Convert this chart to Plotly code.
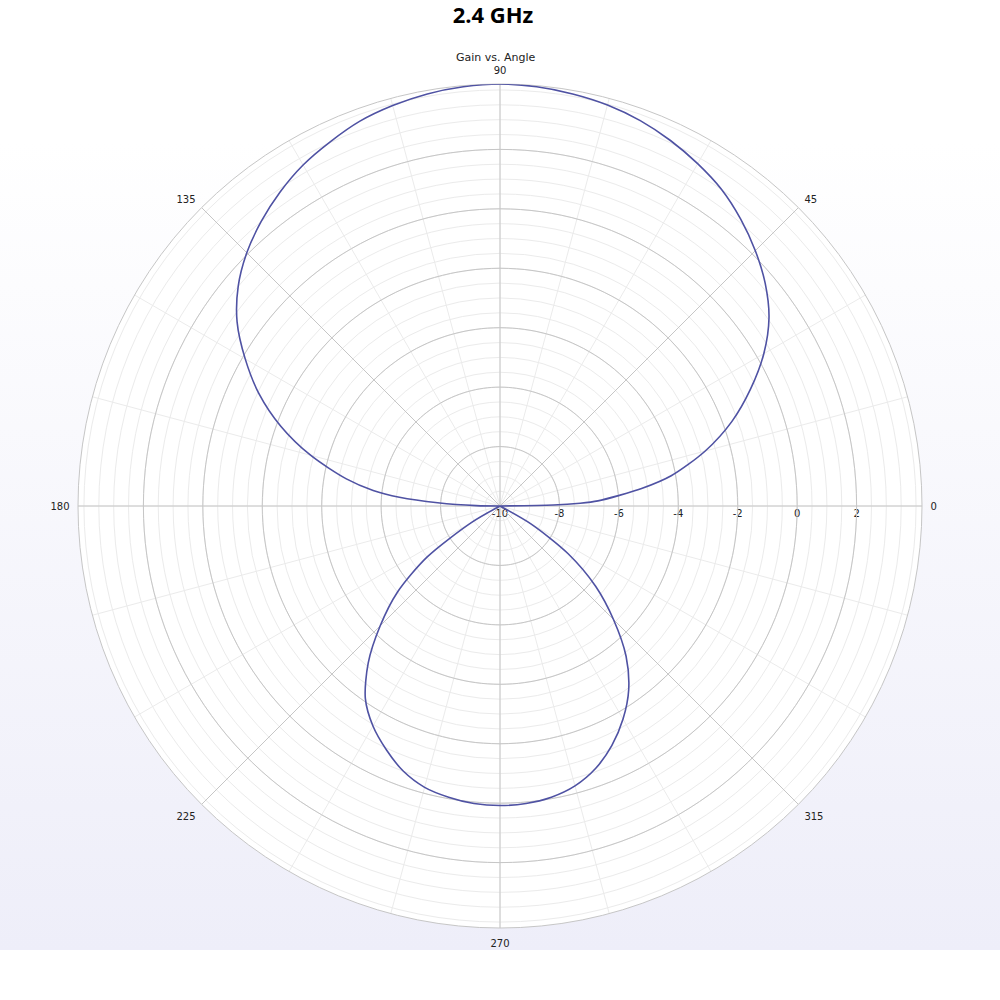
import plotly.graph_objects as go

# gain pattern (angle in degrees, gain in dB)
theta_deg = [0, 1, 2, 3, 5, 7,
             10, 15, 20, 25, 30, 35, 40, 45, 50, 55, 60, 65, 70, 75, 80, 85, 90,
             95, 100, 105, 110, 115, 120, 125, 130, 135, 140, 145, 150, 155, 160, 165, 170,
             173, 175, 177, 179,
             180, 185, 190, 195, 200, 205,
             210, 215, 220, 225, 230, 235, 240, 245, 250, 255, 260, 265, 270,
             275, 280, 285, 290, 295, 300, 305, 310, 315, 320, 325, 330,
             335, 340, 345, 350, 355, 360]
gain_db = [-10, -8.2, -7.3, -6.7, -6.0, -5.2,
           -4.15, -2.85, -1.7, -0.7, 0.25, 1.05, 1.65, 2.15, 2.6, 3.0, 3.3, 3.57, 3.8, 3.97, 4.08, 4.16, 4.2,
           4.16, 4.08, 3.95, 3.78, 3.52, 3.25, 2.9, 2.5, 2.05, 1.5, 0.8, -0.1, -1.05, -2.15, -3.4, -4.75,
           -5.7, -6.6, -7.9, -9.2,
           -10, -10, -10, -10, -10, -10,
           -8.9, -7.0, -5.5, -4.3, -3.1, -2.1, -1.45, -0.95, -0.5, -0.2, -0.05, 0.05, 0.08,
           0.05, -0.05, -0.25, -0.6, -1.1, -1.72, -2.45, -3.4, -4.6, -5.8, -7.2, -8.8,
           -10, -10, -10, -10, -10, -10]

r_min, r_max = -10, 4.2
radial_labels = [-10, -8, -6, -4, -2, 0, 2]
radial_minor = [-10 + 0.5 * i for i in range(29)]
angle_labels = [0, 45, 90, 135, 180, 225, 270, 315]
angle_minor = list(range(0, 360, 15))
circle_theta = list(range(0, 361, 2))

line_col = "#4f52a3"
major_col = "#c6c6c6"
minor_col = "#ebebeb"
font = "DejaVu Sans"

fig = go.Figure()

# page background: white at the top fading to pale lavender
fig.add_trace(go.Scatter(
    x=[0, 1, 1, 0, 0], y=[0.05, 0.05, 1, 1, 0.05],
    fill="toself", mode="lines", line=dict(width=0),
    fillgradient=dict(type="vertical", colorscale=[[0, "#eeeef9"], [0.85, "#ffffff"], [1, "#ffffff"]]),
    hoverinfo="skip", showlegend=False))

# major rings every 2 dB
for rv in radial_labels[1:]:
    fig.add_trace(go.Scatterpolar(
        r=[rv] * len(circle_theta), theta=circle_theta, mode="lines",
        line=dict(color=major_col, width=1), hoverinfo="skip", showlegend=False))

# major spokes every 45 degrees
for a in angle_labels:
    fig.add_trace(go.Scatterpolar(
        r=[r_min, r_max], theta=[a, a], mode="lines",
        line=dict(color=major_col, width=1), hoverinfo="skip", showlegend=False))

fig.add_trace(go.Scatterpolar(
    r=gain_db, theta=theta_deg, mode="lines",
    line=dict(color=line_col, width=1.6, shape="spline", smoothing=0.8),
    name="Gain", showlegend=False))

fig.update_layout(
    width=1000, height=1000,
    margin=dict(l=0, r=0, t=0, b=0),
    paper_bgcolor="white",
    plot_bgcolor="rgba(0,0,0,0)",
    showlegend=False,
    title=dict(text="<b>2.4 GHz</b>", x=0.493, xanchor="center", y=1 - 15 / 1000, yanchor="middle",
               font=dict(family="Open Sans", size=22, color="black")),
    xaxis=dict(domain=[0, 1], range=[0, 1], visible=False, fixedrange=True),
    yaxis=dict(domain=[0, 1], range=[0, 1], visible=False, fixedrange=True),
    polar=dict(
        domain=dict(x=[0.078, 0.922], y=[0.072, 0.916]),
        bgcolor="white",
        angularaxis=dict(
            rotation=0, direction="counterclockwise",
            tickvals=angle_minor,
            ticktext=[str(a) if a % 45 == 0 else "" for a in angle_minor],
            showgrid=True, gridcolor=minor_col, gridwidth=1,
            showline=True, linecolor=major_col, linewidth=1,
            ticks="outside", ticklen=6, tickcolor="rgba(0,0,0,0)", layer="below traces",
            tickfont=dict(family=font, size=10, color="#222222")),
        radialaxis=dict(
            range=[r_min, r_max], angle=0, tickangle=0, side="clockwise",
            tickvals=radial_minor,
            ticktext=[str(int(v)) if v in radial_labels else "" for v in radial_minor],
            showgrid=True, gridcolor=minor_col, gridwidth=1,
            showline=False, ticks="", layer="below traces",
            tickfont=dict(family=font, size=10, color="#222222")),
    ),
    annotations=[dict(text="Gain vs. Angle", x=0.496, y=1 - 57 / 1000, xref="paper", yref="paper",
                      xanchor="center", yanchor="middle", showarrow=False,
                      font=dict(family=font, size=11, color="#222222"))],
)

fig.write_html("out.html", config={"displayModeBar": False},
               post_script="document.body.style.margin='0';")
